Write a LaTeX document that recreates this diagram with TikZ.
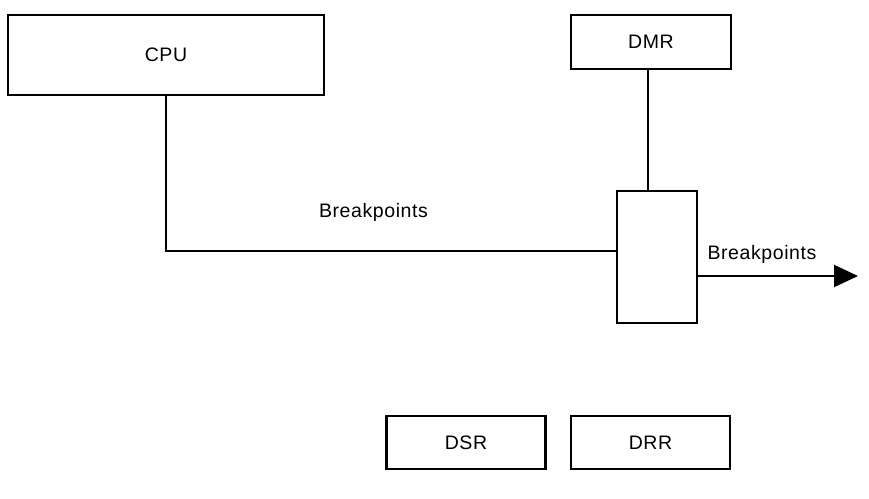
\documentclass[tikz,border=0pt]{standalone}
\usepackage{fontspec}
\setmainfont[LetterSpace=3]{Liberation Sans}
\usetikzlibrary{arrows.meta}
\begin{document}
\begin{tikzpicture}[x=1pt,y=-1pt,
  box/.style={draw=black,line width=2.2pt,rectangle,inner sep=0pt,font=\fontsize{19.5}{23}\selectfont},
  conn/.style={draw=black,line width=2.2pt},
  lbl/.style={inner sep=0pt,font=\fontsize{19.5}{23}\selectfont}]
\useasboundingbox (0,0) rectangle (869,498);
\node[box,minimum width=316pt,minimum height=80pt] (cpu) at (166,55.2) {CPU};
\node[box,minimum width=160pt,minimum height=54pt] (dmr) at (651,42) {DMR};
\node[box,minimum width=80pt,minimum height=132pt] (mid) at (657,256.7) {};
\node[box,minimum width=159pt,minimum height=53pt] (dsr) at (466,442.7) {DSR};
\node[box,minimum width=159pt,minimum height=53pt] (drr) at (650.5,442.7) {DRR};
\coordinate (tip) at (858,276);
\draw[conn] (cpu.south) |- (mid.west |- 0,251.3);
\draw[conn] (dmr.south -| 648.3,0) -- (mid.north -| 648.3,0);
\draw[conn,-{Triangle[length=24pt,width=22pt]}] (mid.east |- tip) -- (tip);
\node[lbl] (bp1) at (373.5,212.5) {Breakpoints};
\node[lbl] (bp2) at (762,254.5) {Breakpoints};
\end{tikzpicture}
\end{document}
